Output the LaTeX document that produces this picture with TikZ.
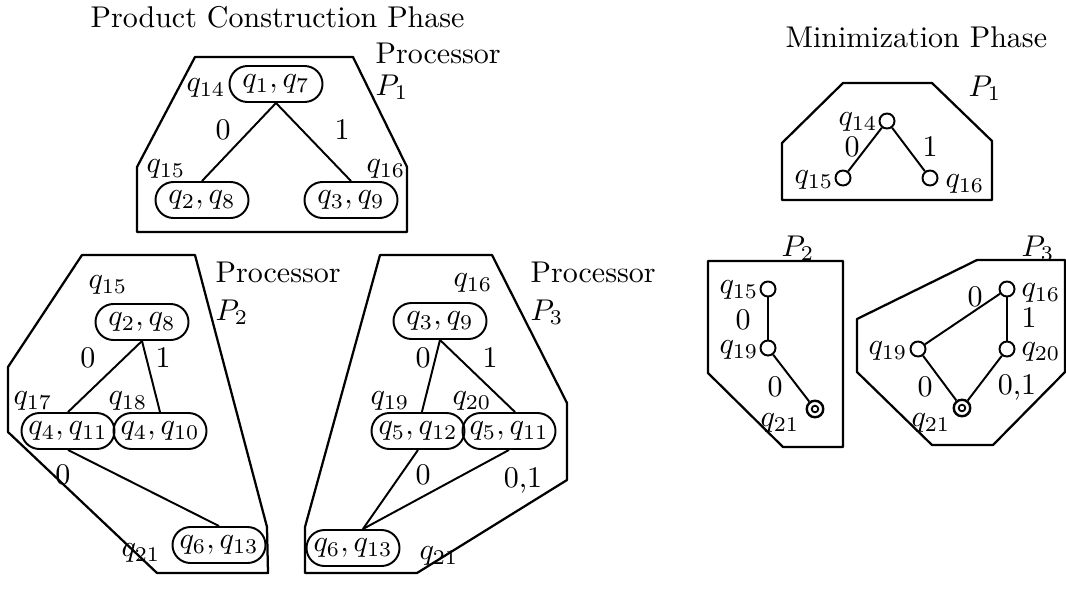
\documentclass[tikz,border=0pt]{standalone}
\usetikzlibrary{calc}
\begin{document}
\begin{tikzpicture}[x=0.3333pt,y=-0.3333pt,
  pair/.style={draw,line width=0.65pt,rounded corners=6pt,minimum width=31pt,minimum height=12pt,inner xsep=2pt,inner ysep=0pt},
  st/.style={draw,circle,line width=0.65pt,minimum size=5pt,inner sep=0pt},
  fst/.style={st,line width=0.8pt,minimum size=5.5pt,path picture={\draw[line width=0.6pt] (path picture bounding box.center) circle (1.1pt);}},
  lab/.style={inner sep=0pt},
  edge/.style={line width=0.65pt},
  proc/.style={line width=0.75pt,line join=round}]
\useasboundingbox (0,0) rectangle (1066,594);

% titles
\node[lab,anchor=base west] (t1) at (90,27) {Product Construction Phase};
\node[lab,anchor=base west] (t2) at (785,47) {Minimization Phase};

% ---------- Product construction, P1 ----------
\draw[proc] (195,57) -- (353,57) -- (407,167) -- (407,232) -- (137,232) -- (137,167) -- cycle;
\node[pair] (a1) at (276,84) {$q_1, q_7$};
\node[pair] (a2) at (202,200) {$q_2, q_8$};
\node[pair] (a3) at (351,200) {$q_3, q_9$};
\draw[edge] (a1.south) -- (a2.north);
\draw[edge] (a1.south) -- (a3.north);
\node[lab] (a1q) at (206,88) {$q_{14}$};
\node[lab] (a2q) at (166,169) {$q_{15}$};
\node[lab] (a3q) at (386,169) {$q_{16}$};
\node[lab] (a0) at (223,130) {0};
\node[lab] (a01) at (342,130) {1};
\node[lab,anchor=base west] (ap) at (375,63) {Processor};
\node[lab,anchor=base west] (aP) at (375,95) {$P_1$};

% ---------- Product construction, P2 ----------
\draw[proc] (82,255) -- (195,255) -- (267,527) -- (268,573) -- (157,573) -- (8,432) -- (8,367) -- cycle;
\node[pair] (b1) at (142,322) {$q_2, q_8$};
\node[pair] (b2) at (68,431) {$q_4, q_{11}$};
\node[pair] (b3) at (160,431) {$q_4, q_{10}$};
\node[pair] (b4) at (219,545) {$q_6, q_{13}$};
\draw[edge] (b1.south) -- (b2.north);
\draw[edge] (b1.south) -- (b3.north);
\draw[edge] (b2.south) -- (b4.north);
\node[lab] (b1q) at (108,285) {$q_{15}$};
\node[lab] (b2q) at (33,401) {$q_{17}$};
\node[lab] (b3q) at (128,401) {$q_{18}$};
\node[lab] (b4q) at (141,553) {$q_{21}$};
\node[lab] (b0) at (88,358) {0};
\node[lab] (b01) at (163,358) {1};
\node[lab] (b00) at (63,475) {0};
\node[lab,anchor=base west] (bp) at (215,282) {Processor};
\node[lab,anchor=base west] (bP) at (215,320) {$P_2$};

% ---------- Product construction, P3 ----------
\draw[proc] (380,255) -- (492,255) -- (567,403) -- (567,480) -- (417,573) -- (305,573) -- (305,527) -- cycle;
\node[pair] (c1) at (440,321) {$q_3, q_9$};
\node[pair] (c2) at (418,431) {$q_5, q_{12}$};
\node[pair] (c3) at (509,431) {$q_5, q_{11}$};
\node[pair] (c4) at (353,548) {$q_6, q_{13}$};
\draw[edge] (c1.south) -- ([xshift=1.3pt]c2.north);
\draw[edge] (c1.south) -- ([xshift=2pt]c3.north);
\draw[edge] (c2.south) -- ([xshift=3.3pt]c4.north);
\draw[edge] (c3.south) -- ([xshift=3.3pt]c4.north);
\node[lab] (c1q) at (473,283) {$q_{16}$};
\node[lab] (c2q) at (390,401) {$q_{19}$};
\node[lab] (c3q) at (472,401) {$q_{20}$};
\node[lab] (c4q) at (439,556) {$q_{21}$};
\node[lab] (c0) at (423,358) {0};
\node[lab] (c01) at (490,358) {1};
\node[lab] (c00) at (423,475) {0};
\node[lab] (c001) at (523,480) {0,1};
\node[lab,anchor=base west] (cp) at (530,282) {Processor};
\node[lab,anchor=base west] (cP) at (530,320) {$P_3$};

% ---------- Minimization, P1 ----------
\draw[proc] (843,83) -- (932,83) -- (992,141) -- (992,200) -- (782,200) -- (782,143) -- cycle;
\node[st] (m14) at (887,121) {};
\node[st] (m15) at (843,178) {};
\node[st] (m16) at (930,178) {};
\draw[edge] (m14) -- (m15);
\draw[edge] (m14) -- (m16);
\node[lab,anchor=east] (m14q) at (878,122) {$q_{14}$};
\node[lab,anchor=east] (m15q) at (834,180) {$q_{15}$};
\node[lab,anchor=west] (m16q) at (945,184) {$q_{16}$};
\node[lab] (m0) at (852,147) {0};
\node[lab] (m1) at (930,147) {1};
\node[lab] (mP) at (985,88) {$P_1$};

% ---------- Minimization, P2 ----------
\draw[proc] (708,261) -- (843,261) -- (843,447) -- (783,447) -- (708,373) -- cycle;
\node[st] (n15) at (768,289) {};
\node[st] (n19) at (768,348) {};
\node[fst] (n21) at (815,409) {};
\draw[edge] (n15) -- (n19);
\draw[edge] (n19) -- (n21);
\node[lab,anchor=east] (n15q) at (759,290) {$q_{15}$};
\node[lab,anchor=east] (n19q) at (759,350) {$q_{19}$};
\node[lab] (n21q) at (780,423) {$q_{21}$};
\node[lab] (n0) at (743,320) {0};
\node[lab] (n00) at (775,387) {0};
\node[lab] (nP) at (798,248) {$P_2$};

% ---------- Minimization, P3 ----------
\draw[proc] (977,260) -- (1065,260) -- (1065,372) -- (993,445) -- (932,445) -- (857,372) -- (857,319) -- cycle;
\node[st] (o16) at (1007,289) {};
\node[st] (o19) at (918,349) {};
\node[st] (o20) at (1007,349) {};
\node[fst] (o21) at (962,408) {};
\draw[edge] (o16) -- (o19);
\draw[edge] (o16) -- (o20);
\draw[edge] (o19) -- (o21);
\draw[edge] (o20) -- (o21);
\node[lab,anchor=west] (o16q) at (1021,293) {$q_{16}$};
\node[lab,anchor=east] (o19q) at (908,351) {$q_{19}$};
\node[lab,anchor=west] (o20q) at (1021,352) {$q_{20}$};
\node[lab] (o21q) at (931,423) {$q_{21}$};
\node[lab] (o0) at (975,297) {0};
\node[lab] (o1) at (1029,318) {1};
\node[lab] (o00) at (925,387) {0};
\node[lab] (o001) at (1017,387) {0,1};
\node[lab] (oP) at (1038,248) {$P_3$};
\end{tikzpicture}
\end{document}
